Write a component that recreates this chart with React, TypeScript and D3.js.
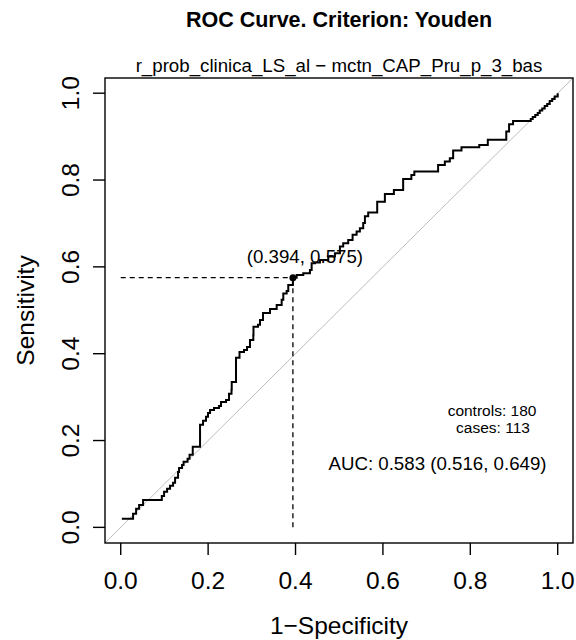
import React, { useEffect, useRef } from "react";
import * as d3 from "d3";

// ROC curve points (1-specificity, sensitivity)
const fpr = [
  0.0025, 0.0283, 0.0352, 0.0421, 0.0512, 0.094, 0.0992, 0.1061, 0.1129, 0.1198,
  0.1244, 0.1312, 0.1335, 0.1404, 0.1438, 0.1529, 0.1575, 0.1648, 0.1815, 0.1884,
  0.1952, 0.1998, 0.2044, 0.2135, 0.225, 0.2295, 0.241, 0.2478, 0.2535, 0.254,
  0.2638, 0.2718, 0.2821, 0.289, 0.2958, 0.3034, 0.3038, 0.3141, 0.3187, 0.3256,
  0.3416, 0.3569, 0.3683, 0.372, 0.3797, 0.3834, 0.394, 0.4026, 0.4177, 0.433,
  0.4369, 0.4444, 0.4559, 0.4749, 0.4902, 0.5016, 0.5091, 0.5206, 0.5306, 0.5398,
  0.5473, 0.5549, 0.5588, 0.5663, 0.5869, 0.6045, 0.6251, 0.6463, 0.6651, 0.6719,
  0.7263, 0.7417, 0.7531, 0.7607, 0.7798, 0.8205, 0.84, 0.8823, 0.8887, 0.8978,
  0.9383, 0.9428, 0.9486, 0.9543, 0.9589, 0.9646, 0.9703, 0.976, 0.9817, 0.9874,
  0.9931, 1,
];
const tpr = [
  0.0196, 0.0311, 0.0426, 0.0518, 0.0633, 0.0725, 0.0818, 0.0887, 0.0956, 0.1025,
  0.114, 0.1278, 0.137, 0.1439, 0.1509, 0.1578, 0.167, 0.1854, 0.2361, 0.2453,
  0.2545, 0.2637, 0.2706, 0.2752, 0.2798, 0.289, 0.2936, 0.3075, 0.3167, 0.3351,
  0.3904, 0.4042, 0.4088, 0.4157, 0.4318, 0.4433, 0.4618, 0.4664, 0.4779, 0.494,
  0.5032, 0.5124, 0.524, 0.5389, 0.5447, 0.5585, 0.575, 0.5815, 0.5854, 0.593,
  0.6085, 0.6099, 0.6161, 0.6237, 0.6315, 0.6467, 0.6545, 0.6621, 0.6737, 0.6812,
  0.6891, 0.7013, 0.7163, 0.725, 0.7497, 0.7681, 0.7773, 0.8026, 0.8118, 0.8199,
  0.8349, 0.8425, 0.8503, 0.8683, 0.8756, 0.8809, 0.8925, 0.912, 0.9282, 0.9362,
  0.9408, 0.9454, 0.95, 0.9546, 0.9604, 0.965, 0.9707, 0.9753, 0.9823, 0.9869,
  0.9926, 1,
];

const axisTicks = [0, 0.2, 0.4, 0.6, 0.8, 1.0];
const youden = [0.394, 0.575];
const auc = [0.583, 0.516, 0.649];
const counts = [180, 113]; // controls, cases

const title = "ROC Curve. Criterion: Youden";
const subtitle = "r_prob_clinica_LS_al \u2212 mctn_CAP_Pru_p_3_bas";
const FONT = "'Liberation Sans', Arial, Helvetica, sans-serif";

export default function App() {
  const svgRef = useRef<SVGSVGElement | null>(null);

  useEffect(() => {
    if (!svgRef.current) return;
    const svg = d3.select(svgRef.current);
    svg.selectAll("*").remove();

    const width = 576;
    const height = 640;
    svg.attr("width", width).attr("height", height).attr("viewBox", `0 0 ${width} ${height}`);

    // plot region (R style, 4% padding on the unit square)
    const box = { left: 105, right: 573, top: 78, bottom: 543 };
    const dom: [number, number] = [-0.036, 1.035];
    const x = d3.scaleLinear().domain(dom).range([box.left, box.right]);
    const y = d3.scaleLinear().domain(dom).range([box.bottom, box.top]);
    const fmt = d3.format(".1f");
    const fmt3 = d3.format(".3f");

    svg.append("rect").attr("width", width).attr("height", height).attr("fill", "#fff");

    // chance diagonal
    svg
      .append("line")
      .attr("x1", x(dom[0]))
      .attr("y1", y(dom[0]))
      .attr("x2", x(dom[1]))
      .attr("y2", y(dom[1]))
      .attr("stroke", "#bdbdbd")
      .attr("stroke-width", 1);

    // threshold guides
    svg
      .append("line")
      .attr("x1", x(0))
      .attr("x2", x(youden[0]))
      .attr("y1", y(youden[1]))
      .attr("y2", y(youden[1]))
      .attr("stroke", "#000")
      .attr("stroke-width", 1.3)
      .attr("stroke-dasharray", "5,4");
    svg
      .append("line")
      .attr("x1", x(youden[0]))
      .attr("x2", x(youden[0]))
      .attr("y1", y(0))
      .attr("y2", y(youden[1]))
      .attr("stroke", "#000")
      .attr("stroke-width", 1.3)
      .attr("stroke-dasharray", "5,4");

    // roc curve
    const pts = fpr.map((f, i) => [f, tpr[i]] as [number, number]);
    const line = d3
      .line<[number, number]>()
      .x((d) => x(d[0]))
      .y((d) => y(d[1]))
      .curve(d3.curveStepAfter);
    svg
      .append("path")
      .attr("d", line(pts))
      .attr("fill", "none")
      .attr("stroke", "#000")
      .attr("stroke-width", 2);

    svg
      .append("circle")
      .attr("cx", x(youden[0]))
      .attr("cy", y(youden[1]))
      .attr("r", 3.5)
      .attr("fill", "#000");

    svg
      .append("text")
      .attr("x", x(youden[0]) + 12)
      .attr("y", y(youden[1]) - 15)
      .attr("text-anchor", "middle")
      .attr("font-family", FONT)
      .attr("font-size", 18.7)
      .text(`(${fmt3(youden[0])}, ${fmt3(youden[1])})`);

    // box
    svg
      .append("rect")
      .attr("x", box.left)
      .attr("y", box.top)
      .attr("width", box.right - box.left)
      .attr("height", box.bottom - box.top)
      .attr("fill", "none")
      .attr("stroke", "#000")
      .attr("stroke-width", 1.4);

    // x axis
    const gx = svg.append("g");
    gx.selectAll("line")
      .data(axisTicks)
      .enter()
      .append("line")
      .attr("x1", (d) => x(d))
      .attr("x2", (d) => x(d))
      .attr("y1", box.bottom)
      .attr("y2", box.bottom + 12)
      .attr("stroke", "#000")
      .attr("stroke-width", 1.4);
    gx.selectAll("text")
      .data(axisTicks)
      .enter()
      .append("text")
      .attr("x", (d) => x(d))
      .attr("y", 589)
      .attr("text-anchor", "middle")
      .attr("font-family", FONT)
      .attr("font-size", 24.5)
      .text((d) => fmt(d));

    // y axis
    const gy = svg.append("g");
    gy.selectAll("line")
      .data(axisTicks)
      .enter()
      .append("line")
      .attr("x1", box.left)
      .attr("x2", box.left - 12)
      .attr("y1", (d) => y(d))
      .attr("y2", (d) => y(d))
      .attr("stroke", "#000")
      .attr("stroke-width", 1.4);
    gy.selectAll("text")
      .data(axisTicks)
      .enter()
      .append("text")
      .attr("transform", (d) => `translate(78.5,${y(d)}) rotate(-90)`)
      .attr("text-anchor", "middle")
      .attr("font-family", FONT)
      .attr("font-size", 24.5)
      .text((d) => fmt(d));

    // axis titles
    const midX = (box.left + box.right) / 2;
    const midY = (box.top + box.bottom) / 2;
    svg
      .append("text")
      .attr("x", midX)
      .attr("y", 634)
      .attr("text-anchor", "middle")
      .attr("font-family", FONT)
      .attr("font-size", 24.5)
      .text("1\u2212Specificity");
    svg
      .append("text")
      .attr("transform", `translate(34,${midY}) rotate(-90)`)
      .attr("text-anchor", "middle")
      .attr("font-family", FONT)
      .attr("font-size", 24.5)
      .text("Sensitivity");

    // titles
    svg
      .append("text")
      .attr("x", midX)
      .attr("y", 27)
      .attr("text-anchor", "middle")
      .attr("font-family", FONT)
      .attr("font-weight", "bold")
      .attr("font-size", 21.5)
      .text(title);
    svg
      .append("text")
      .attr("x", midX)
      .attr("y", 72)
      .attr("text-anchor", "middle")
      .attr("font-family", FONT)
      .attr("font-size", 18.7)
      .text(subtitle);

    // annotations
    svg
      .append("text")
      .attr("x", 492)
      .attr("y", 416)
      .attr("text-anchor", "middle")
      .attr("font-family", FONT)
      .attr("font-size", 15.5)
      .text(`controls: ${counts[0]}`);
    svg
      .append("text")
      .attr("x", 493)
      .attr("y", 432.5)
      .attr("text-anchor", "middle")
      .attr("font-family", FONT)
      .attr("font-size", 15.5)
      .text(`cases: ${counts[1]}`);
    svg
      .append("text")
      .attr("x", 437.5)
      .attr("y", 470)
      .attr("text-anchor", "middle")
      .attr("font-family", FONT)
      .attr("font-size", 18.7)
      .text(`AUC: ${fmt3(auc[0])} (${fmt3(auc[1])}, ${fmt3(auc[2])})`);
  }, []);

  return (
    <svg
      ref={svgRef}
      style={{ position: "absolute", left: 0, top: 0, display: "block" }}
    />
  );
}
